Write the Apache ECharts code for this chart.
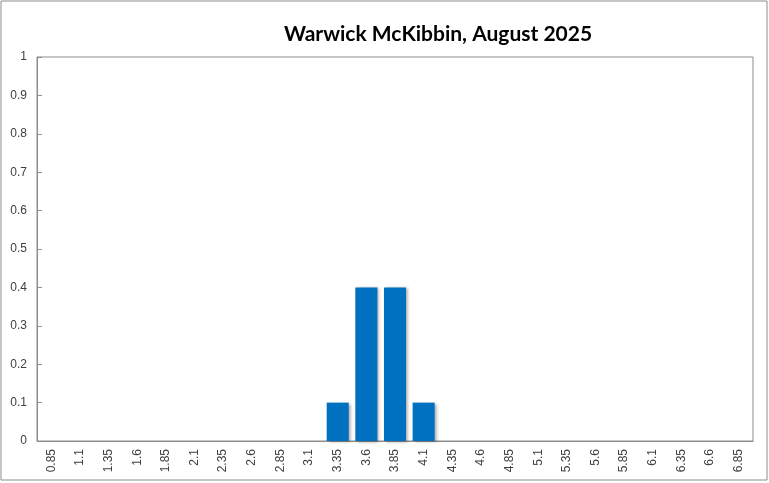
<!DOCTYPE html>
<html>
<head>
<meta charset="utf-8">
<script src="https://cdn.jsdelivr.net/npm/echarts@6/dist/echarts.min.js"></script>
<style>
  html, body { margin: 0; padding: 0; background: #fff; }
  #chart { width: 769px; height: 483px; }
</style>
</head>
<body>
<div id="chart"></div>
<script>
// 分类（利率）
var categories = ['0.85', '1.1', '1.35', '1.6', '1.85', '2.1', '2.35', '2.6', '2.85', '3.1',
  '3.35', '3.6', '3.85', '4.1', '4.35', '4.6', '4.85', '5.1', '5.35', '5.6',
  '5.85', '6.1', '6.35', '6.6', '6.85'];
// 概率
var probabilities = [0, 0, 0, 0, 0, 0, 0, 0, 0, 0,
  0.1, 0.4, 0.4, 0.1, 0, 0, 0, 0, 0, 0,
  0, 0, 0, 0, 0];
var chartTitle = 'Warwick McKibbin, August 2025';

var myChart = echarts.init(document.getElementById('chart'));
var option = {
  animation: false,
  backgroundColor: '#ffffff',
  title: {
    text: chartTitle,
    left: 433,
    top: 19,
    textAlign: 'center',
    textStyle: {
      fontFamily: 'Lato',
      fontWeight: 'bold',
      fontSize: 21,
      color: '#000000'
    }
  },
  graphic: [{
    type: 'rect',
    shape: { x: 1, y: 1, width: 766, height: 479 },
    style: { fill: 'none', stroke: '#8c8c8c', lineWidth: 1 },
    silent: true
  }],
  grid: {
    left: 37,
    right: 16,
    top: 57,
    bottom: 42,
    show: true,
    borderColor: '#8c8c8c',
    borderWidth: 1
  },
  xAxis: {
    type: 'category',
    data: categories,
    axisLine: { lineStyle: { color: '#8c8c8c' } },
    axisTick: { inside: true, length: 5, lineStyle: { color: '#8c8c8c' } },
    axisLabel: {
      rotate: 90,
      interval: 0,
      margin: 8,
      fontFamily: 'Liberation Sans',
      fontSize: 12,
      color: '#404040'
    }
  },
  yAxis: {
    type: 'value',
    min: 0,
    max: 1,
    interval: 0.1,
    splitLine: { show: false },
    axisLine: { show: true, lineStyle: { color: '#8c8c8c' } },
    axisTick: { show: true, inside: true, length: 5, lineStyle: { color: '#8c8c8c' } },
    axisLabel: {
      margin: 10,
      fontFamily: 'Liberation Sans',
      fontSize: 12,
      color: '#404040',
      formatter: function (v) { return String(Math.round(v * 100) / 100); }
    }
  },
  series: [{
    type: 'bar',
    data: probabilities,
    barCategoryGap: '23%',
    itemStyle: {
      color: '#0070C0',
      shadowColor: 'rgba(0,0,0,0.35)',
      shadowBlur: 3,
      shadowOffsetX: 2,
      shadowOffsetY: 1
    }
  }]
};
myChart.setOption(option);
window.onresize = myChart.resize;
</script>
</body>
</html>
